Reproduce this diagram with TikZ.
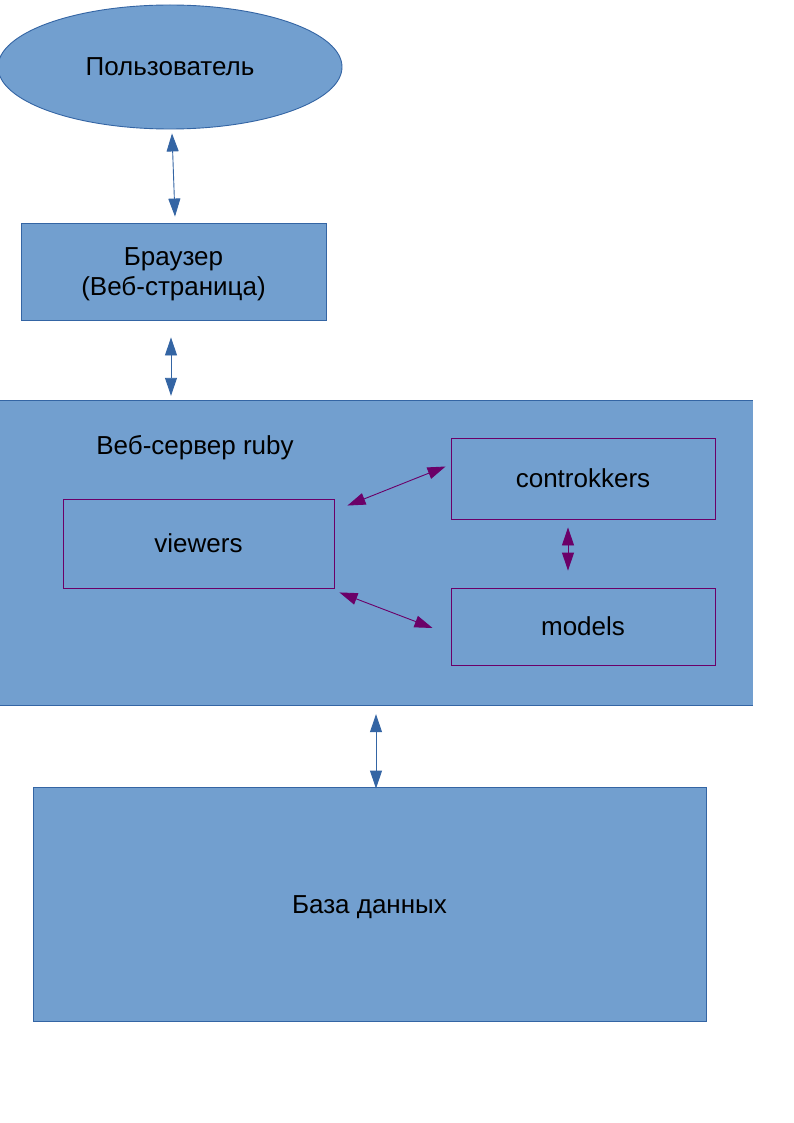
\documentclass[tikz,border=0pt]{standalone}
\usepackage{fontspec}
\setmainfont{Liberation Sans}
\usetikzlibrary{shapes.geometric,arrows.meta,calc}

\definecolor{boxfill}{HTML}{729FCF}
\definecolor{boxline}{HTML}{3465A4}
\definecolor{mvcline}{HTML}{6B0068}

\tikzset{
  block/.style={draw=boxline, fill=boxfill, line width=0.9pt, inner sep=0pt},
  part/.style={draw=mvcline, fill=boxfill, line width=0.9pt, inner sep=0pt},
  link/.style={<->, >={Triangle[length=18pt,width=12pt]}, line width=0.9pt},
}

\begin{document}
\begin{tikzpicture}[x=1pt, y=-1pt, font=\fontsize{26}{30}\selectfont]
  \useasboundingbox[fill=white] (0,0) rectangle (794,1123);

  \node[block, ellipse, minimum width=344, minimum height=124] (user) at (170,67) {Пользователь};
  \node[block, minimum width=305, minimum height=97, align=center, text depth=0pt] (browser) at (173.5,271.5) {Браузер\\(Веб-страница)};

  \node[fill=boxfill, minimum width=754, minimum height=304, inner sep=0pt] (server) at (376,553) {};
  \draw[boxline, line width=0.9pt] (server.north west) -- (server.north east);
  \draw[boxline, line width=0.9pt] (server.south west) -- (server.south east);
  \node (serverlabel) at (195,448) {Веб-сервер ruby};

  \node[part, minimum width=271, minimum height=89] (viewers) at (198.5,543.5) {viewers};
  \node[part, minimum width=264, minimum height=81] (ctrl) at (583,478.5) {controkkers};
  \node[part, minimum width=264, minimum height=77] (models) at (583,626.5) {models};

  \node[block, minimum width=673, minimum height=234, text height=24pt, text depth=5pt] (db) at (369.5,904) {База данных};

  % blue links
  \draw[link, boxline] ($(user.south)+(2,4)$) -- ($(browser.north)+(1.5,-6)$);
  \draw[link, boxline] ($(browser.south)+(-2.5,17)$) -- ($(server.north)+(-205,-5)$);
  \draw[link, boxline] ($(server.south)+(0,9)$) -- ($(db.north)+(6.5,2)$);

  % mvc links
  \draw[link, mvcline] ($(viewers.north east)+(13,7)$) -- ($(ctrl.west)+(-5,-12)$);
  \draw[link, mvcline] ($(viewers.south east)+(5,4)$) -- ($(models.west)+(-18,1.5)$);
  \draw[link, mvcline] ($(ctrl.south)+(-15,8)$) -- ($(models.north)+(-15,-17)$);
\end{tikzpicture}
\end{document}
